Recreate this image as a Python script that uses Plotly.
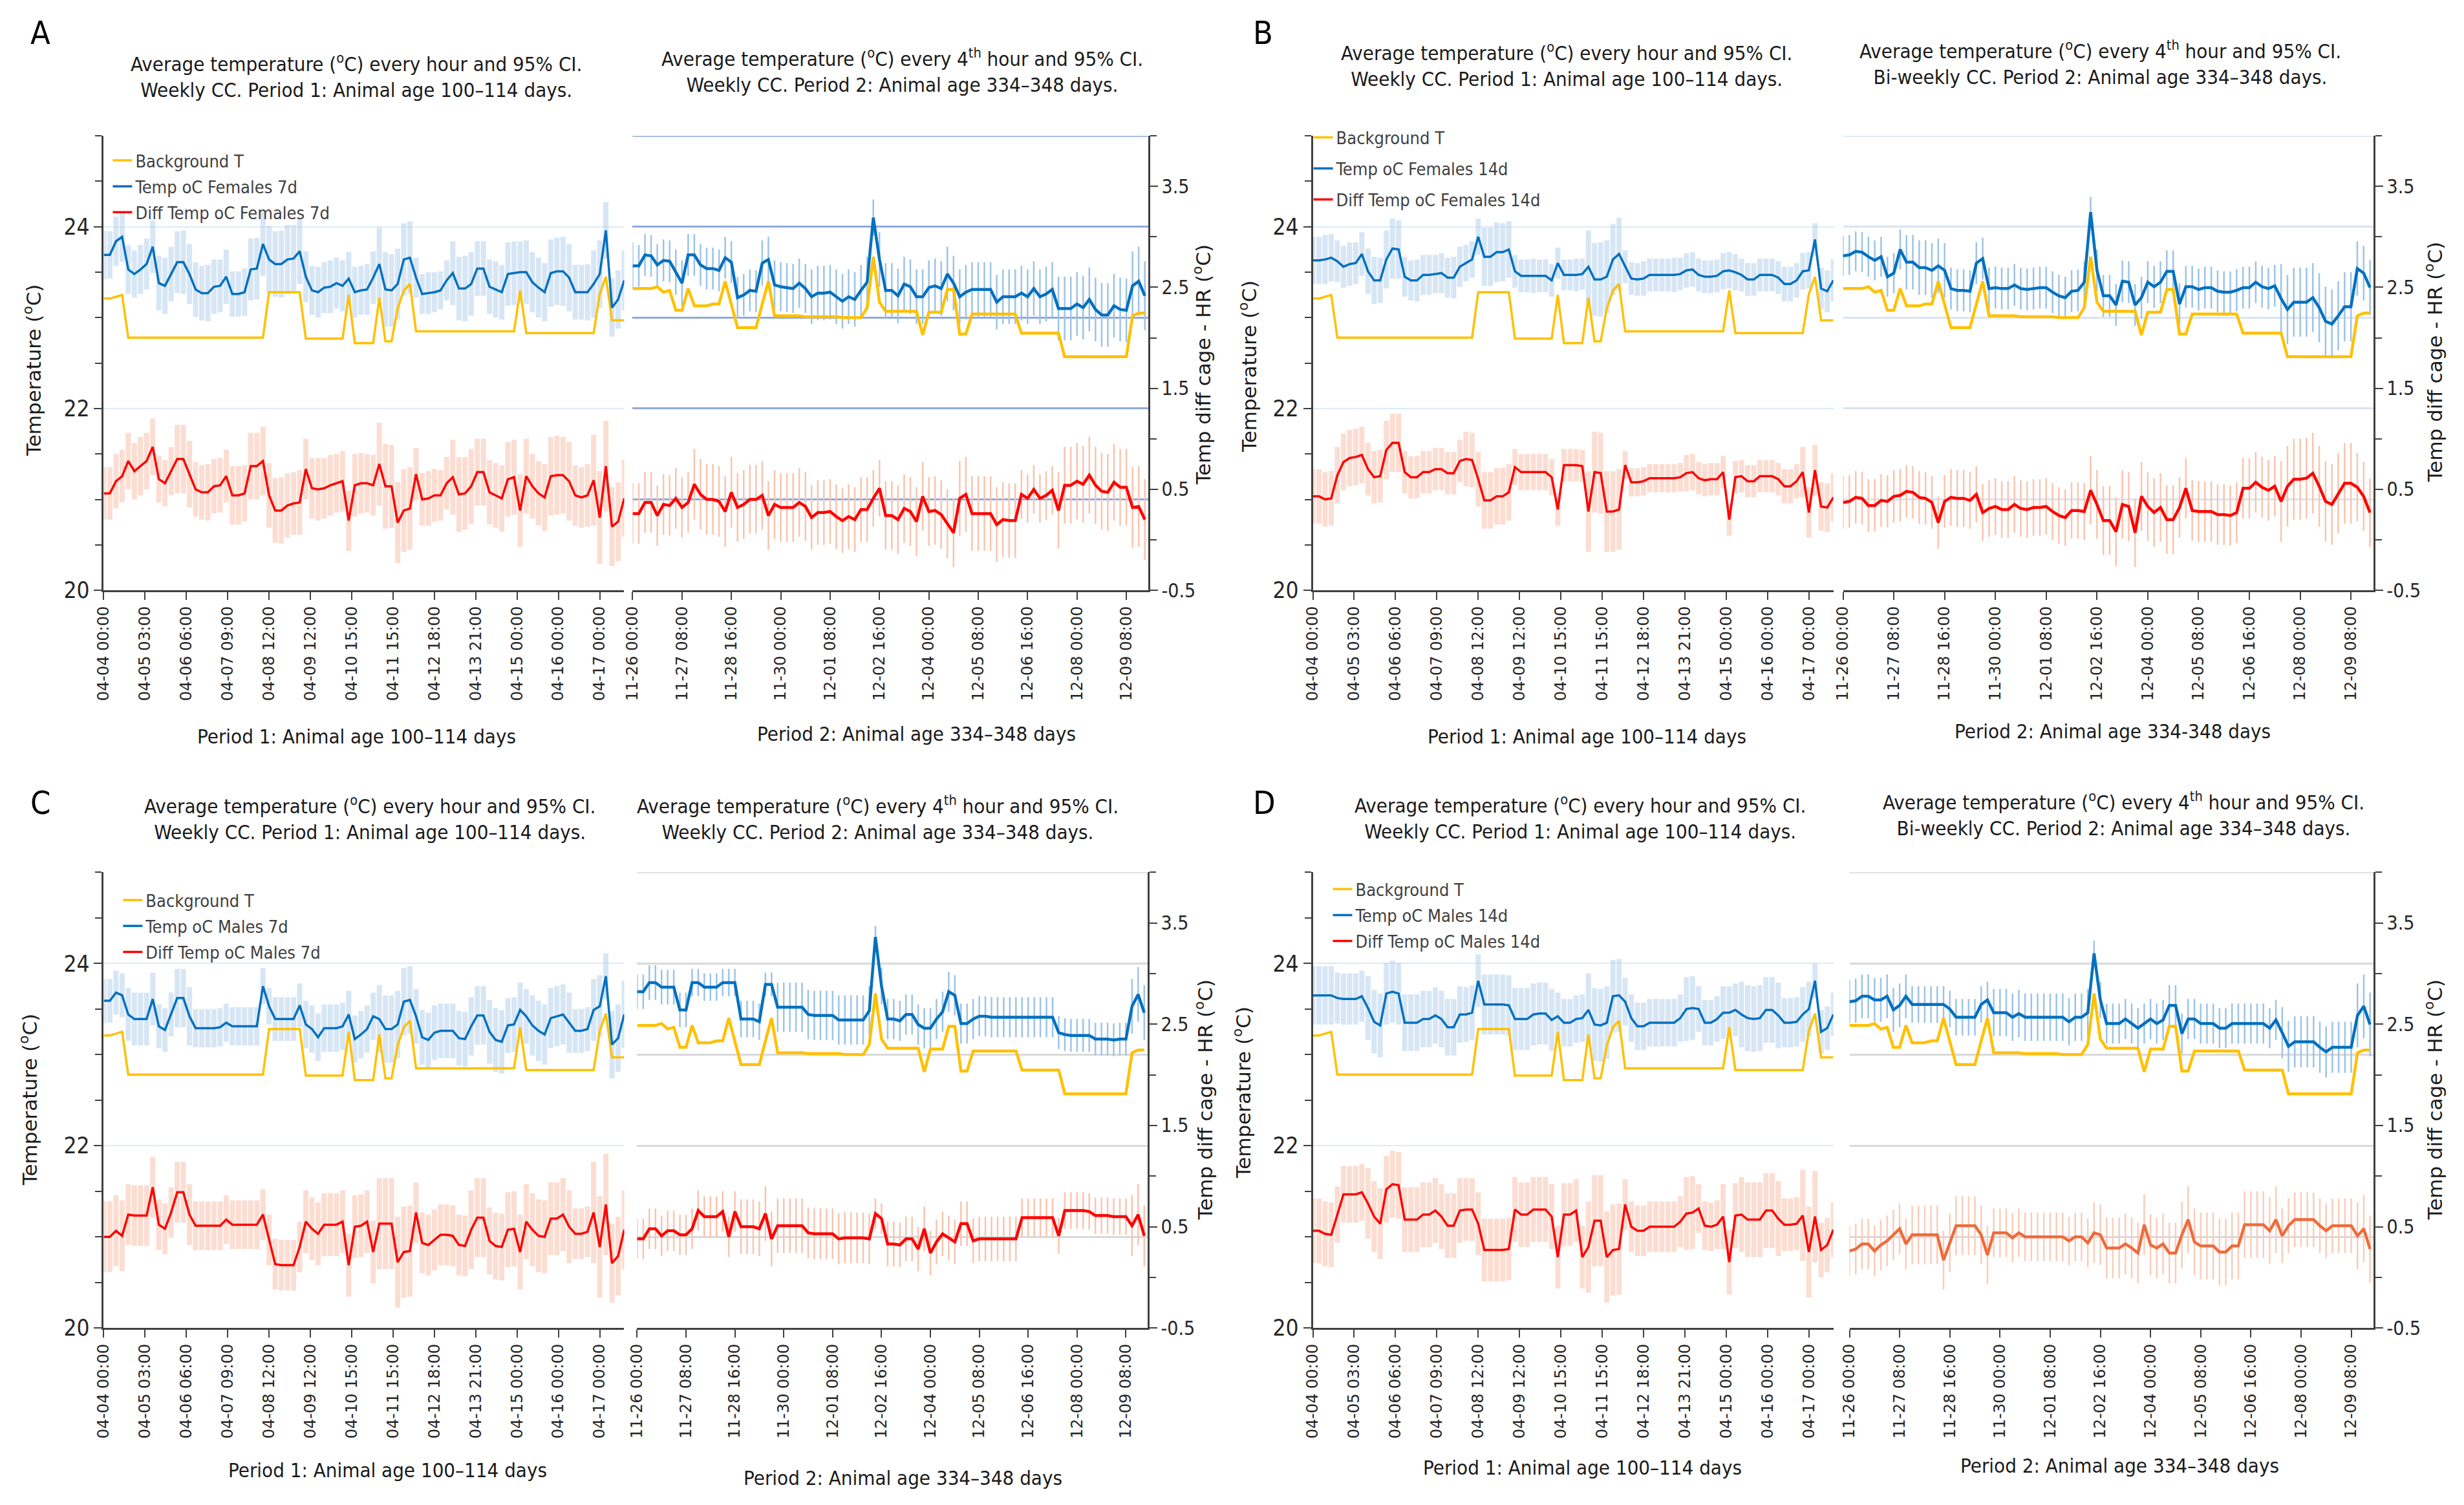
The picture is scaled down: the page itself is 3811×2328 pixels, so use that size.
import plotly.graph_objects as go

W, H = 3811, 2328

# ------------------------------------------------------------------ data
P1_TICK_POS = [0, 27, 54, 81, 108, 135, 162, 189, 216, 243, 270, 297, 324]
P1_TICK_TEXT = ["04-04 00:00", "04-05 03:00", "04-06 06:00", "04-07 09:00", "04-08 12:00",
                "04-09 12:00", "04-10 15:00", "04-11 15:00", "04-12 18:00", "04-13 21:00",
                "04-15 00:00", "04-16 00:00", "04-17 00:00"]
P2_TICK_POS = [0, 8, 16, 24, 32, 40, 48, 56, 64, 72, 80]
P2_TICK_TEXT = ["11-26 00:00", "11-27 08:00", "11-28 16:00", "11-30 00:00", "12-01 08:00",
                "12-02 16:00", "12-04 00:00", "12-05 08:00", "12-06 16:00", "12-08 00:00",
                "12-09 08:00"]
P1_X = list(range(0, 341, 4))   # hourly category index, every 4th hour read
P2_X = list(range(0, 84))       # every 4th hour category index

BG_P1 = [23.21, 23.21, 23.23, 23.25, 22.78, 22.78, 22.78, 22.78, 22.78, 22.78,
         22.78, 22.78, 22.78, 22.78, 22.78, 22.78, 22.78, 22.78, 22.78, 22.78,
         22.78, 22.78, 22.78, 22.78, 22.78, 22.78, 22.78, 23.28, 23.28, 23.28,
         23.28, 23.28, 23.28, 22.77, 22.77, 22.77, 22.77, 22.77, 22.77, 22.77,
         23.25, 22.72, 22.72, 22.72, 22.72, 23.22, 22.74, 22.74, 23.10, 23.30,
         23.37, 22.85, 22.85, 22.85, 22.85, 22.85, 22.85, 22.85, 22.85, 22.85,
         22.85, 22.85, 22.85, 22.85, 22.85, 22.85, 22.85, 22.85, 23.30, 22.83,
         22.83, 22.83, 22.83, 22.83, 22.83, 22.83, 22.83, 22.83, 22.83, 22.83,
         22.83, 23.26, 23.45, 22.97, 22.97, 22.97]
BG_P2 = [23.32, 23.32, 23.32, 23.32, 23.34, 23.28, 23.30, 23.08, 23.08, 23.32,
         23.13, 23.13, 23.13, 23.15, 23.15, 23.40, 23.15, 22.89, 22.89, 22.89,
         22.89, 23.15, 23.40, 23.02, 23.02, 23.02, 23.02, 23.02, 23.01, 23.01,
         23.01, 23.01, 23.01, 23.01, 23.00, 23.00, 23.00, 23.00, 23.11, 23.67,
         23.17, 23.07, 23.07, 23.07, 23.07, 23.07, 23.07, 22.81, 23.06, 23.06,
         23.06, 23.31, 23.31, 22.82, 22.82, 23.04, 23.04, 23.04, 23.04, 23.04,
         23.04, 23.04, 23.04, 22.83, 22.83, 22.83, 22.83, 22.83, 22.83, 22.83,
         22.57, 22.57, 22.57, 22.57, 22.57, 22.57, 22.57, 22.57, 22.57, 22.57,
         22.57, 23.02, 23.05, 23.05]

# ---- Panel A (Females 7d)
A_P1_TEMP = [23.69, 23.69, 23.84, 23.89, 23.53, 23.48, 23.53, 23.59, 23.78, 23.38,
             23.35, 23.48, 23.61, 23.61, 23.48, 23.31, 23.27, 23.27, 23.34, 23.35,
             23.45, 23.26, 23.26, 23.28, 23.53, 23.54, 23.81, 23.64, 23.59, 23.59,
             23.64, 23.65, 23.73, 23.45, 23.30, 23.28, 23.33, 23.34, 23.38, 23.35,
             23.43, 23.28, 23.30, 23.31, 23.44, 23.59, 23.31, 23.30, 23.37, 23.64,
             23.66, 23.44, 23.26, 23.27, 23.28, 23.30, 23.41, 23.49, 23.32, 23.32,
             23.37, 23.54, 23.54, 23.34, 23.31, 23.28, 23.48, 23.49, 23.50, 23.50,
             23.39, 23.33, 23.28, 23.49, 23.51, 23.51, 23.44, 23.28, 23.28, 23.28,
             23.37, 23.48, 23.96, 23.11, 23.20, 23.41]
A_P1_TEMP_CI = [0.27, 0.26, 0.27, 0.28, 0.27, 0.26, 0.27, 0.28, 0.29, 0.30,
                0.31, 0.30, 0.34, 0.35, 0.33, 0.30, 0.30, 0.31, 0.30, 0.29,
                0.30, 0.25, 0.25, 0.26, 0.34, 0.34, 0.35, 0.37, 0.36, 0.37,
                0.38, 0.37, 0.36, 0.28, 0.27, 0.28, 0.28, 0.29, 0.28, 0.28,
                0.29, 0.28, 0.27, 0.28, 0.29, 0.40, 0.41, 0.40, 0.39, 0.40,
                0.40, 0.22, 0.22, 0.23, 0.22, 0.21, 0.22, 0.35, 0.35, 0.36,
                0.35, 0.30, 0.30, 0.30, 0.31, 0.30, 0.35, 0.35, 0.34, 0.35,
                0.33, 0.33, 0.32, 0.37, 0.37, 0.38, 0.37, 0.30, 0.30, 0.31,
                0.37, 0.37, 0.31, 0.32, 0.32, 0.33]
A_P1_DIFF = [0.46, 0.46, 0.58, 0.63, 0.78, 0.68, 0.73, 0.78, 0.92, 0.60,
             0.56, 0.68, 0.80, 0.80, 0.65, 0.50, 0.47, 0.47, 0.53, 0.54,
             0.63, 0.44, 0.44, 0.46, 0.73, 0.73, 0.78, 0.44, 0.29, 0.29,
             0.34, 0.36, 0.37, 0.70, 0.51, 0.50, 0.51, 0.54, 0.56, 0.58,
             0.19, 0.54, 0.56, 0.56, 0.54, 0.75, 0.53, 0.53, 0.17, 0.29,
             0.31, 0.65, 0.40, 0.41, 0.44, 0.44, 0.56, 0.62, 0.45, 0.46,
             0.53, 0.67, 0.67, 0.47, 0.44, 0.41, 0.60, 0.62, 0.29, 0.63,
             0.53, 0.46, 0.42, 0.63, 0.64, 0.64, 0.58, 0.44, 0.42, 0.44,
             0.59, 0.22, 0.73, 0.13, 0.18, 0.41]
A_P1_DIFF_CI = [0.26, 0.26, 0.27, 0.26, 0.28, 0.28, 0.29, 0.28, 0.28, 0.23,
                0.23, 0.24, 0.34, 0.34, 0.33, 0.27, 0.27, 0.28, 0.27, 0.27,
                0.26, 0.29, 0.29, 0.28, 0.33, 0.33, 0.34, 0.32, 0.32, 0.33,
                0.32, 0.31, 0.32, 0.30, 0.30, 0.31, 0.30, 0.30, 0.29, 0.30,
                0.30, 0.31, 0.30, 0.29, 0.30, 0.41, 0.42, 0.41, 0.40, 0.41,
                0.41, 0.26, 0.26, 0.27, 0.26, 0.25, 0.26, 0.37, 0.37, 0.36,
                0.37, 0.33, 0.33, 0.32, 0.32, 0.33, 0.37, 0.37, 0.36, 0.37,
                0.32, 0.32, 0.33, 0.39, 0.39, 0.38, 0.39, 0.30, 0.30, 0.31,
                0.45, 0.46, 0.45, 0.39, 0.39, 0.38]
A_P2_TEMP = [23.57, 23.57, 23.69, 23.68, 23.58, 23.63, 23.62, 23.50, 23.38, 23.69,
             23.69, 23.58, 23.54, 23.54, 23.52, 23.66, 23.61, 23.22, 23.25, 23.30,
             23.29, 23.60, 23.64, 23.36, 23.34, 23.33, 23.32, 23.38, 23.32, 23.23,
             23.27, 23.27, 23.28, 23.23, 23.18, 23.23, 23.20, 23.30, 23.39, 24.10,
             23.64, 23.30, 23.30, 23.24, 23.37, 23.34, 23.23, 23.23, 23.33, 23.35,
             23.32, 23.48, 23.38, 23.23, 23.28, 23.31, 23.31, 23.31, 23.31, 23.17,
             23.23, 23.23, 23.23, 23.27, 23.23, 23.32, 23.23, 23.26, 23.31, 23.10,
             23.10, 23.10, 23.15, 23.11, 23.20, 23.09, 23.03, 23.03, 23.13, 23.09,
             23.08, 23.35, 23.40, 23.24]
A_P2_TEMP_CI = [0.26, 0.23, 0.23, 0.23, 0.23, 0.23, 0.23, 0.25, 0.25, 0.23,
                0.23, 0.23, 0.23, 0.23, 0.23, 0.23, 0.23, 0.23, 0.23, 0.23,
                0.23, 0.25, 0.25, 0.27, 0.27, 0.27, 0.27, 0.27, 0.27, 0.30,
                0.30, 0.30, 0.30, 0.30, 0.30, 0.30, 0.30, 0.28, 0.28, 0.20,
                0.30, 0.30, 0.30, 0.30, 0.30, 0.30, 0.30, 0.30, 0.30, 0.30,
                0.30, 0.30, 0.30, 0.30, 0.30, 0.30, 0.30, 0.30, 0.30, 0.30,
                0.30, 0.30, 0.30, 0.30, 0.30, 0.30, 0.30, 0.30, 0.30, 0.35,
                0.35, 0.35, 0.35, 0.35, 0.35, 0.35, 0.35, 0.35, 0.35, 0.35,
                0.35, 0.38, 0.38, 0.38]
A_P2_DIFF = [0.26, 0.26, 0.37, 0.37, 0.24, 0.35, 0.34, 0.41, 0.32, 0.37,
             0.55, 0.45, 0.40, 0.40, 0.38, 0.28, 0.47, 0.32, 0.35, 0.40,
             0.40, 0.44, 0.24, 0.35, 0.32, 0.32, 0.32, 0.37, 0.33, 0.22,
             0.27, 0.27, 0.28, 0.23, 0.19, 0.23, 0.20, 0.30, 0.30, 0.41,
             0.51, 0.24, 0.24, 0.20, 0.31, 0.28, 0.18, 0.43, 0.28, 0.29,
             0.25, 0.16, 0.07, 0.41, 0.45, 0.26, 0.26, 0.26, 0.26, 0.15,
             0.20, 0.19, 0.19, 0.45, 0.41, 0.50, 0.41, 0.44, 0.49, 0.29,
             0.54, 0.54, 0.58, 0.55, 0.64, 0.54, 0.48, 0.47, 0.57, 0.52,
             0.52, 0.32, 0.33, 0.20]
A_P2_DIFF_CI = [0.30, 0.30, 0.30, 0.30, 0.30, 0.30, 0.30, 0.30, 0.30, 0.30,
                0.35, 0.35, 0.35, 0.35, 0.35, 0.35, 0.35, 0.34, 0.34, 0.34,
                0.34, 0.34, 0.34, 0.34, 0.34, 0.34, 0.34, 0.34, 0.34, 0.32,
                0.32, 0.32, 0.32, 0.32, 0.32, 0.32, 0.32, 0.32, 0.32, 0.28,
                0.28, 0.34, 0.34, 0.34, 0.34, 0.34, 0.34, 0.34, 0.34, 0.34,
                0.34, 0.34, 0.34, 0.37, 0.37, 0.37, 0.37, 0.37, 0.37, 0.37,
                0.37, 0.37, 0.37, 0.24, 0.24, 0.24, 0.24, 0.24, 0.24, 0.38,
                0.38, 0.38, 0.38, 0.38, 0.38, 0.38, 0.38, 0.38, 0.38, 0.38,
                0.38, 0.40, 0.40, 0.40]

# ---- Panel B (Females 14d)
B_P1_TEMP = [23.63, 23.63, 23.64, 23.66, 23.62, 23.56, 23.59, 23.60, 23.70, 23.51,
             23.41, 23.41, 23.64, 23.76, 23.75, 23.45, 23.41, 23.41, 23.47, 23.47,
             23.48, 23.49, 23.44, 23.44, 23.56, 23.60, 23.64, 23.89, 23.67, 23.67,
             23.72, 23.72, 23.75, 23.51, 23.46, 23.46, 23.46, 23.46, 23.46, 23.41,
             23.60, 23.47, 23.47, 23.47, 23.48, 23.56, 23.42, 23.42, 23.45, 23.64,
             23.70, 23.56, 23.43, 23.42, 23.43, 23.47, 23.47, 23.47, 23.47, 23.47,
             23.48, 23.52, 23.53, 23.47, 23.45, 23.45, 23.46, 23.51, 23.52, 23.50,
             23.47, 23.42, 23.42, 23.47, 23.47, 23.47, 23.44, 23.37, 23.37, 23.41,
             23.51, 23.52, 23.86, 23.32, 23.29, 23.41]
B_P1_TEMP_CI = [0.26, 0.26, 0.27, 0.26, 0.23, 0.23, 0.24, 0.23, 0.24, 0.25,
                0.26, 0.25, 0.32, 0.33, 0.32, 0.22, 0.22, 0.23, 0.22, 0.22,
                0.21, 0.22, 0.22, 0.23, 0.22, 0.20, 0.20, 0.20, 0.32, 0.32,
                0.33, 0.32, 0.31, 0.18, 0.18, 0.18, 0.19, 0.18, 0.18, 0.18,
                0.17, 0.17, 0.17, 0.18, 0.17, 0.40, 0.40, 0.41, 0.40, 0.39,
                0.40, 0.18, 0.18, 0.18, 0.19, 0.18, 0.18, 0.18, 0.18, 0.19,
                0.18, 0.19, 0.19, 0.18, 0.18, 0.18, 0.18, 0.20, 0.20, 0.20,
                0.18, 0.18, 0.18, 0.18, 0.18, 0.18, 0.18, 0.19, 0.19, 0.19,
                0.20, 0.20, 0.18, 0.23, 0.23, 0.23]
B_P1_DIFF = [0.43, 0.43, 0.40, 0.41, 0.64, 0.77, 0.81, 0.82, 0.84, 0.70,
             0.62, 0.63, 0.89, 0.96, 0.96, 0.67, 0.62, 0.62, 0.67, 0.67,
             0.70, 0.70, 0.66, 0.66, 0.78, 0.80, 0.79, 0.60, 0.39, 0.39,
             0.43, 0.43, 0.47, 0.72, 0.67, 0.67, 0.67, 0.67, 0.67, 0.62,
             0.30, 0.74, 0.74, 0.74, 0.73, 0.28, 0.67, 0.66, 0.28, 0.28,
             0.30, 0.74, 0.57, 0.57, 0.58, 0.61, 0.61, 0.61, 0.61, 0.61,
             0.62, 0.66, 0.67, 0.61, 0.59, 0.60, 0.60, 0.67, 0.20, 0.62,
             0.63, 0.58, 0.58, 0.63, 0.63, 0.63, 0.60, 0.53, 0.53, 0.58,
             0.67, 0.27, 0.69, 0.33, 0.32, 0.42]
B_P1_DIFF_CI = [0.27, 0.27, 0.27, 0.27, 0.28, 0.28, 0.28, 0.28, 0.28, 0.26,
                0.26, 0.26, 0.29, 0.29, 0.29, 0.21, 0.21, 0.21, 0.21, 0.21,
                0.21, 0.21, 0.21, 0.21, 0.21, 0.27, 0.27, 0.27, 0.28, 0.28,
                0.28, 0.28, 0.28, 0.18, 0.18, 0.18, 0.18, 0.18, 0.18, 0.18,
                0.16, 0.16, 0.16, 0.16, 0.16, 0.40, 0.40, 0.40, 0.40, 0.40,
                0.40, 0.14, 0.14, 0.14, 0.14, 0.14, 0.14, 0.14, 0.14, 0.14,
                0.14, 0.18, 0.18, 0.16, 0.16, 0.16, 0.16, 0.16, 0.16, 0.16,
                0.16, 0.16, 0.16, 0.16, 0.16, 0.16, 0.16, 0.17, 0.17, 0.17,
                0.25, 0.25, 0.25, 0.24, 0.24, 0.24]
B_P2_TEMP = [23.68, 23.69, 23.73, 23.72, 23.67, 23.63, 23.67, 23.45, 23.49, 23.75,
             23.61, 23.61, 23.55, 23.55, 23.52, 23.57, 23.52, 23.32, 23.30, 23.30,
             23.29, 23.60, 23.65, 23.32, 23.33, 23.32, 23.32, 23.36, 23.32, 23.31,
             23.32, 23.33, 23.33, 23.28, 23.24, 23.22, 23.29, 23.30, 23.39, 24.16,
             23.52, 23.24, 23.24, 23.14, 23.40, 23.39, 23.14, 23.22, 23.39, 23.34,
             23.39, 23.51, 23.51, 23.15, 23.34, 23.34, 23.31, 23.33, 23.33, 23.29,
             23.28, 23.28, 23.30, 23.33, 23.33, 23.39, 23.34, 23.32, 23.35, 23.21,
             23.09, 23.17, 23.17, 23.17, 23.22, 23.11, 22.96, 22.93, 23.02, 23.12,
             23.12, 23.54, 23.49, 23.33]
B_P2_TEMP_CI = [0.22, 0.22, 0.22, 0.22, 0.22, 0.22, 0.22, 0.22, 0.22, 0.22,
                0.30, 0.30, 0.30, 0.30, 0.30, 0.30, 0.30, 0.23, 0.23, 0.23,
                0.23, 0.23, 0.23, 0.23, 0.23, 0.23, 0.23, 0.23, 0.23, 0.23,
                0.23, 0.23, 0.23, 0.23, 0.23, 0.23, 0.23, 0.23, 0.23, 0.17,
                0.23, 0.23, 0.23, 0.23, 0.23, 0.23, 0.23, 0.23, 0.23, 0.23,
                0.23, 0.23, 0.23, 0.23, 0.23, 0.23, 0.23, 0.23, 0.23, 0.23,
                0.23, 0.23, 0.23, 0.23, 0.23, 0.23, 0.23, 0.23, 0.23, 0.38,
                0.38, 0.38, 0.38, 0.38, 0.38, 0.38, 0.38, 0.38, 0.38, 0.38,
                0.38, 0.30, 0.30, 0.30]
B_P2_DIFF = [0.37, 0.38, 0.42, 0.41, 0.34, 0.34, 0.39, 0.38, 0.43, 0.44,
             0.48, 0.47, 0.42, 0.41, 0.37, 0.17, 0.38, 0.42, 0.41, 0.41,
             0.39, 0.45, 0.27, 0.31, 0.33, 0.30, 0.30, 0.35, 0.31, 0.30,
             0.32, 0.32, 0.33, 0.28, 0.24, 0.22, 0.29, 0.29, 0.28, 0.49,
             0.35, 0.19, 0.19, 0.08, 0.35, 0.33, 0.07, 0.43, 0.33, 0.27,
             0.32, 0.20, 0.20, 0.32, 0.51, 0.29, 0.28, 0.28, 0.28, 0.25,
             0.25, 0.24, 0.27, 0.51, 0.51, 0.57, 0.52, 0.49, 0.53, 0.38,
             0.53, 0.60, 0.60, 0.61, 0.66, 0.53, 0.38, 0.35, 0.46, 0.56,
             0.56, 0.52, 0.43, 0.27]
B_P2_DIFF_CI = [0.26, 0.26, 0.26, 0.26, 0.26, 0.26, 0.26, 0.26, 0.26, 0.26,
                0.26, 0.26, 0.26, 0.26, 0.26, 0.26, 0.26, 0.28, 0.28, 0.28,
                0.28, 0.28, 0.28, 0.28, 0.28, 0.28, 0.28, 0.28, 0.28, 0.28,
                0.28, 0.28, 0.28, 0.28, 0.28, 0.28, 0.28, 0.28, 0.28, 0.34,
                0.34, 0.34, 0.34, 0.34, 0.34, 0.34, 0.34, 0.34, 0.34, 0.34,
                0.34, 0.34, 0.34, 0.30, 0.30, 0.30, 0.30, 0.30, 0.30, 0.30,
                0.30, 0.30, 0.30, 0.30, 0.30, 0.30, 0.30, 0.30, 0.30, 0.40,
                0.40, 0.40, 0.40, 0.40, 0.40, 0.40, 0.40, 0.40, 0.40, 0.40,
                0.40, 0.34, 0.34, 0.34]

# ---- Panel C (Males 7d)
C_P1_TEMP = [23.59, 23.59, 23.68, 23.65, 23.44, 23.39, 23.39, 23.39, 23.61, 23.31,
             23.27, 23.44, 23.62, 23.62, 23.42, 23.29, 23.29, 23.29, 23.29, 23.30,
             23.35, 23.31, 23.31, 23.31, 23.31, 23.31, 23.75, 23.53, 23.39, 23.39,
             23.39, 23.39, 23.54, 23.33, 23.28, 23.19, 23.29, 23.29, 23.29, 23.31,
             23.44, 23.17, 23.22, 23.28, 23.42, 23.39, 23.28, 23.28, 23.33, 23.58,
             23.60, 23.42, 23.19, 23.16, 23.24, 23.26, 23.26, 23.26, 23.18, 23.17,
             23.31, 23.43, 23.43, 23.25, 23.16, 23.14, 23.32, 23.33, 23.49, 23.42,
             23.32, 23.26, 23.22, 23.40, 23.42, 23.44, 23.35, 23.26, 23.26, 23.28,
             23.49, 23.53, 23.86, 23.11, 23.18, 23.44]
C_P1_TEMP_CI = [0.24, 0.24, 0.24, 0.24, 0.29, 0.29, 0.29, 0.29, 0.29, 0.24,
                0.24, 0.24, 0.32, 0.32, 0.32, 0.21, 0.21, 0.21, 0.21, 0.21,
                0.21, 0.21, 0.21, 0.21, 0.21, 0.21, 0.20, 0.20, 0.24, 0.24,
                0.24, 0.24, 0.24, 0.26, 0.26, 0.26, 0.26, 0.26, 0.26, 0.26,
                0.26, 0.26, 0.26, 0.26, 0.26, 0.37, 0.37, 0.37, 0.37, 0.37,
                0.37, 0.30, 0.30, 0.30, 0.30, 0.30, 0.30, 0.30, 0.30, 0.30,
                0.32, 0.32, 0.32, 0.35, 0.35, 0.35, 0.30, 0.30, 0.30, 0.30,
                0.33, 0.33, 0.33, 0.33, 0.33, 0.33, 0.33, 0.24, 0.24, 0.24,
                0.34, 0.34, 0.25, 0.37, 0.37, 0.37]
C_P1_DIFF = [0.40, 0.40, 0.46, 0.41, 0.62, 0.61, 0.61, 0.61, 0.89, 0.52,
             0.48, 0.64, 0.84, 0.84, 0.62, 0.51, 0.51, 0.51, 0.51, 0.51,
             0.57, 0.52, 0.52, 0.52, 0.52, 0.52, 0.62, 0.37, 0.13, 0.12,
             0.12, 0.12, 0.30, 0.55, 0.48, 0.43, 0.52, 0.52, 0.52, 0.55,
             0.12, 0.50, 0.51, 0.55, 0.25, 0.53, 0.53, 0.53, 0.15, 0.25,
             0.26, 0.64, 0.34, 0.32, 0.37, 0.42, 0.42, 0.41, 0.32, 0.31,
             0.47, 0.59, 0.59, 0.36, 0.31, 0.30, 0.47, 0.48, 0.25, 0.55,
             0.47, 0.41, 0.40, 0.58, 0.58, 0.62, 0.50, 0.43, 0.43, 0.45,
             0.64, 0.30, 0.72, 0.14, 0.21, 0.47]
C_P1_DIFF_CI = [0.35, 0.35, 0.35, 0.35, 0.30, 0.30, 0.30, 0.30, 0.30, 0.25,
                0.25, 0.25, 0.30, 0.30, 0.30, 0.24, 0.24, 0.24, 0.24, 0.24,
                0.24, 0.24, 0.24, 0.24, 0.24, 0.24, 0.25, 0.25, 0.25, 0.25,
                0.25, 0.25, 0.25, 0.31, 0.31, 0.31, 0.31, 0.31, 0.31, 0.31,
                0.31, 0.31, 0.31, 0.31, 0.31, 0.45, 0.45, 0.45, 0.45, 0.45,
                0.45, 0.30, 0.30, 0.30, 0.30, 0.30, 0.30, 0.30, 0.30, 0.30,
                0.39, 0.39, 0.39, 0.33, 0.33, 0.33, 0.37, 0.37, 0.37, 0.37,
                0.36, 0.36, 0.36, 0.36, 0.36, 0.36, 0.36, 0.25, 0.25, 0.25,
                0.50, 0.50, 0.50, 0.39, 0.39, 0.39]
C_P2_TEMP = [23.69, 23.69, 23.79, 23.79, 23.74, 23.74, 23.74, 23.49, 23.49, 23.79,
             23.79, 23.74, 23.74, 23.74, 23.79, 23.79, 23.79, 23.39, 23.39, 23.39,
             23.36, 23.77, 23.77, 23.52, 23.52, 23.52, 23.52, 23.52, 23.44, 23.43,
             23.43, 23.43, 23.43, 23.38, 23.38, 23.38, 23.38, 23.38, 23.48, 24.29,
             23.75, 23.39, 23.39, 23.37, 23.44, 23.44, 23.33, 23.29, 23.29, 23.39,
             23.47, 23.69, 23.65, 23.34, 23.34, 23.39, 23.42, 23.42, 23.41, 23.41,
             23.41, 23.41, 23.41, 23.41, 23.41, 23.41, 23.41, 23.41, 23.41, 23.24,
             23.22, 23.21, 23.21, 23.21, 23.21, 23.17, 23.17, 23.17, 23.16, 23.17,
             23.17, 23.53, 23.66, 23.46]
C_P2_TEMP_CI = [0.19, 0.19, 0.19, 0.19, 0.19, 0.19, 0.19, 0.19, 0.19, 0.15,
                0.15, 0.15, 0.15, 0.15, 0.15, 0.15, 0.15, 0.20, 0.20, 0.20,
                0.20, 0.13, 0.13, 0.27, 0.27, 0.27, 0.27, 0.27, 0.27, 0.27,
                0.27, 0.27, 0.27, 0.27, 0.27, 0.27, 0.27, 0.27, 0.27, 0.12,
                0.20, 0.22, 0.22, 0.22, 0.22, 0.22, 0.22, 0.22, 0.22, 0.22,
                0.22, 0.22, 0.22, 0.22, 0.22, 0.22, 0.22, 0.22, 0.22, 0.22,
                0.22, 0.22, 0.22, 0.22, 0.22, 0.22, 0.22, 0.22, 0.22, 0.18,
                0.18, 0.18, 0.18, 0.18, 0.18, 0.18, 0.18, 0.18, 0.18, 0.18,
                0.18, 0.30, 0.30, 0.30]
C_P2_DIFF = [0.38, 0.38, 0.48, 0.48, 0.41, 0.46, 0.46, 0.42, 0.42, 0.48,
             0.66, 0.60, 0.60, 0.60, 0.65, 0.40, 0.65, 0.50, 0.50, 0.50,
             0.48, 0.63, 0.38, 0.51, 0.51, 0.51, 0.51, 0.51, 0.44, 0.43,
             0.43, 0.43, 0.43, 0.38, 0.39, 0.39, 0.39, 0.39, 0.38, 0.63,
             0.58, 0.33, 0.33, 0.32, 0.38, 0.38, 0.28, 0.48, 0.24, 0.35,
             0.43, 0.39, 0.35, 0.53, 0.53, 0.36, 0.38, 0.38, 0.38, 0.38,
             0.38, 0.38, 0.38, 0.59, 0.59, 0.59, 0.59, 0.59, 0.59, 0.41,
             0.66, 0.66, 0.66, 0.66, 0.65, 0.61, 0.61, 0.61, 0.60, 0.60,
             0.60, 0.51, 0.62, 0.41]
C_P2_DIFF_CI = [0.20, 0.20, 0.20, 0.20, 0.20, 0.20, 0.20, 0.20, 0.20, 0.20,
                0.20, 0.20, 0.20, 0.20, 0.20, 0.20, 0.20, 0.27, 0.27, 0.27,
                0.27, 0.27, 0.27, 0.27, 0.27, 0.27, 0.27, 0.27, 0.25, 0.25,
                0.25, 0.25, 0.25, 0.25, 0.25, 0.25, 0.25, 0.25, 0.25, 0.15,
                0.15, 0.22, 0.22, 0.22, 0.22, 0.22, 0.22, 0.22, 0.22, 0.22,
                0.22, 0.22, 0.22, 0.22, 0.22, 0.22, 0.22, 0.22, 0.22, 0.22,
                0.22, 0.22, 0.22, 0.19, 0.19, 0.19, 0.19, 0.19, 0.19, 0.18,
                0.18, 0.18, 0.18, 0.18, 0.18, 0.18, 0.18, 0.18, 0.18, 0.18,
                0.18, 0.30, 0.30, 0.30]

# ---- Panel D (Males 14d)
D_P1_TEMP = [23.65, 23.65, 23.65, 23.65, 23.62, 23.61, 23.61, 23.61, 23.64, 23.51,
             23.36, 23.32, 23.67, 23.69, 23.67, 23.35, 23.35, 23.35, 23.39, 23.39,
             23.43, 23.39, 23.30, 23.30, 23.44, 23.44, 23.46, 23.81, 23.55, 23.55,
             23.55, 23.55, 23.54, 23.39, 23.39, 23.39, 23.44, 23.45, 23.45, 23.38,
             23.42, 23.35, 23.35, 23.39, 23.40, 23.49, 23.33, 23.32, 23.35, 23.64,
             23.65, 23.58, 23.40, 23.31, 23.31, 23.35, 23.35, 23.35, 23.35, 23.35,
             23.40, 23.50, 23.51, 23.50, 23.35, 23.35, 23.39, 23.46, 23.46, 23.49,
             23.44, 23.40, 23.39, 23.40, 23.49, 23.49, 23.43, 23.35, 23.35, 23.36,
             23.44, 23.50, 23.81, 23.25, 23.29, 23.44]
D_P1_TEMP_CI = [0.32, 0.32, 0.32, 0.32, 0.28, 0.28, 0.28, 0.28, 0.28, 0.35,
                0.35, 0.35, 0.34, 0.34, 0.34, 0.31, 0.31, 0.31, 0.31, 0.31,
                0.31, 0.31, 0.31, 0.31, 0.31, 0.30, 0.30, 0.29, 0.33, 0.33,
                0.33, 0.33, 0.33, 0.34, 0.34, 0.34, 0.34, 0.34, 0.34, 0.34,
                0.26, 0.26, 0.26, 0.26, 0.26, 0.40, 0.40, 0.40, 0.40, 0.40,
                0.40, 0.26, 0.26, 0.26, 0.26, 0.26, 0.26, 0.26, 0.26, 0.26,
                0.26, 0.35, 0.35, 0.25, 0.25, 0.25, 0.25, 0.29, 0.29, 0.29,
                0.36, 0.36, 0.36, 0.36, 0.36, 0.36, 0.36, 0.27, 0.27, 0.27,
                0.30, 0.30, 0.19, 0.24, 0.24, 0.24]
D_P1_DIFF = [0.46, 0.46, 0.43, 0.42, 0.62, 0.82, 0.82, 0.82, 0.84, 0.73,
             0.60, 0.53, 0.87, 0.92, 0.91, 0.57, 0.57, 0.57, 0.62, 0.62,
             0.66, 0.60, 0.51, 0.51, 0.66, 0.67, 0.67, 0.53, 0.27, 0.27,
             0.27, 0.27, 0.28, 0.67, 0.62, 0.62, 0.67, 0.67, 0.67, 0.60,
             0.20, 0.62, 0.62, 0.66, 0.20, 0.30, 0.56, 0.56, 0.20, 0.27,
             0.28, 0.72, 0.50, 0.46, 0.46, 0.50, 0.50, 0.50, 0.50, 0.50,
             0.55, 0.63, 0.64, 0.68, 0.51, 0.50, 0.52, 0.60, 0.15, 0.61,
             0.62, 0.57, 0.57, 0.57, 0.66, 0.66, 0.58, 0.52, 0.52, 0.53,
             0.61, 0.25, 0.60, 0.27, 0.32, 0.47]
D_P1_DIFF_CI = [0.32, 0.32, 0.32, 0.32, 0.28, 0.28, 0.28, 0.28, 0.28, 0.35,
                0.35, 0.35, 0.33, 0.33, 0.33, 0.32, 0.32, 0.32, 0.32, 0.32,
                0.32, 0.32, 0.32, 0.32, 0.32, 0.31, 0.31, 0.31, 0.31, 0.31,
                0.31, 0.31, 0.31, 0.32, 0.32, 0.32, 0.32, 0.32, 0.32, 0.32,
                0.31, 0.31, 0.31, 0.31, 0.31, 0.45, 0.45, 0.45, 0.45, 0.45,
                0.45, 0.25, 0.25, 0.25, 0.25, 0.25, 0.25, 0.25, 0.25, 0.25,
                0.25, 0.36, 0.36, 0.24, 0.24, 0.24, 0.24, 0.32, 0.32, 0.32,
                0.37, 0.37, 0.37, 0.37, 0.37, 0.37, 0.37, 0.26, 0.26, 0.26,
                0.45, 0.45, 0.45, 0.27, 0.27, 0.27]
D_P2_TEMP = [23.58, 23.59, 23.64, 23.64, 23.60, 23.60, 23.64, 23.49, 23.54, 23.64,
             23.55, 23.55, 23.55, 23.55, 23.55, 23.55, 23.50, 23.41, 23.41, 23.41,
             23.41, 23.55, 23.60, 23.46, 23.46, 23.46, 23.41, 23.45, 23.41, 23.41,
             23.41, 23.41, 23.41, 23.41, 23.41, 23.36, 23.41, 23.41, 23.46, 24.11,
             23.60, 23.34, 23.34, 23.34, 23.39, 23.34, 23.29, 23.34, 23.39, 23.34,
             23.38, 23.54, 23.54, 23.23, 23.39, 23.39, 23.34, 23.34, 23.34, 23.29,
             23.29, 23.34, 23.34, 23.34, 23.34, 23.34, 23.34, 23.29, 23.38, 23.24,
             23.09, 23.14, 23.14, 23.14, 23.14, 23.08, 23.03, 23.08, 23.08, 23.08,
             23.08, 23.43, 23.53, 23.33]
D_P2_TEMP_CI = [0.24, 0.24, 0.24, 0.24, 0.24, 0.24, 0.24, 0.24, 0.24, 0.24,
                0.20, 0.20, 0.20, 0.20, 0.20, 0.20, 0.20, 0.20, 0.20, 0.20,
                0.20, 0.20, 0.20, 0.26, 0.26, 0.26, 0.26, 0.26, 0.26, 0.26,
                0.26, 0.26, 0.26, 0.26, 0.26, 0.26, 0.26, 0.26, 0.26, 0.14,
                0.20, 0.22, 0.22, 0.22, 0.22, 0.22, 0.22, 0.22, 0.22, 0.22,
                0.22, 0.22, 0.22, 0.22, 0.22, 0.22, 0.22, 0.22, 0.22, 0.22,
                0.22, 0.22, 0.22, 0.22, 0.22, 0.22, 0.22, 0.22, 0.22, 0.28,
                0.28, 0.28, 0.28, 0.28, 0.28, 0.28, 0.28, 0.28, 0.28, 0.28,
                0.28, 0.35, 0.35, 0.35]
D_P2_DIFF = [0.26, 0.28, 0.33, 0.33, 0.26, 0.32, 0.36, 0.42, 0.48, 0.33,
             0.42, 0.42, 0.42, 0.42, 0.42, 0.17, 0.34, 0.51, 0.51, 0.51,
             0.51, 0.42, 0.22, 0.44, 0.44, 0.44, 0.39, 0.44, 0.40, 0.40,
             0.40, 0.40, 0.40, 0.40, 0.40, 0.36, 0.40, 0.40, 0.34, 0.44,
             0.42, 0.29, 0.29, 0.29, 0.33, 0.29, 0.24, 0.52, 0.32, 0.29,
             0.33, 0.24, 0.24, 0.42, 0.57, 0.35, 0.31, 0.31, 0.31, 0.25,
             0.25, 0.31, 0.31, 0.52, 0.52, 0.52, 0.52, 0.46, 0.57, 0.41,
             0.51, 0.57, 0.57, 0.57, 0.57, 0.51, 0.46, 0.51, 0.51, 0.51,
             0.51, 0.41, 0.48, 0.28]
D_P2_DIFF_CI = [0.25, 0.25, 0.25, 0.25, 0.25, 0.25, 0.25, 0.25, 0.25, 0.25,
                0.29, 0.29, 0.29, 0.29, 0.29, 0.29, 0.29, 0.29, 0.29, 0.29,
                0.29, 0.29, 0.29, 0.24, 0.24, 0.24, 0.24, 0.24, 0.24, 0.24,
                0.24, 0.24, 0.24, 0.24, 0.24, 0.24, 0.24, 0.24, 0.24, 0.30,
                0.30, 0.30, 0.30, 0.30, 0.30, 0.30, 0.30, 0.30, 0.30, 0.30,
                0.30, 0.30, 0.30, 0.33, 0.33, 0.33, 0.33, 0.33, 0.33, 0.33,
                0.33, 0.33, 0.33, 0.33, 0.33, 0.33, 0.33, 0.33, 0.33, 0.27,
                0.27, 0.27, 0.27, 0.27, 0.27, 0.27, 0.27, 0.27, 0.27, 0.27,
                0.27, 0.33, 0.33, 0.33]

# ------------------------------------------------------------------ styling / layout
NARROW = "Liberation Sans Narrow, Arial Narrow, DejaVu Sans Condensed, sans-serif"
TICKF = "DejaVu Sans, Verdana, sans-serif"
AXC = "#404040"
TXT = "#1a1a1a"
YEL = "#FFC000"
BLU = "#0070C0"
P1_BLUE_CI = "rgba(175,205,235,0.5)"
P1_RED_CI = "rgba(248,180,155,0.45)"
P2_BLUE_CI = "#9DC3E6"
P1_GRID = "#DDEAF6"

PANELS = [
    dict(letter="A", who="Females 7d", cc2="Weekly CC.", p2lab="Period 2: Animal age 334–348 days",
         t1=A_P1_TEMP, t1ci=A_P1_TEMP_CI, d1=A_P1_DIFF, d1ci=A_P1_DIFF_CI,
         t2=A_P2_TEMP, t2ci=A_P2_TEMP_CI, d2=A_P2_DIFF, d2ci=A_P2_DIFF_CI,
         grid2="#8FAADC", dcol2="#FF0000", dci2="#F8C4AE",
         x1=(147, 955), x2=(968, 1768), y=(212, 921),
         title1=(539, 118), title2=(1387, 110), xt1=(539, 1149), xt2=(1409, 1145),
         lt=(36, 578), rt=(1852, 569), tag=(49, 51), leg=(156, 226), gap=2),
    dict(letter="B", who="Females 14d", cc2="Bi-weekly CC.", p2lab="Period 2: Animal age 334-348 days",
         t1=B_P1_TEMP, t1ci=B_P1_TEMP_CI, d1=B_P1_DIFF, d1ci=B_P1_DIFF_CI,
         t2=B_P2_TEMP, t2ci=B_P2_TEMP_CI, d2=B_P2_DIFF, d2ci=B_P2_DIFF_CI,
         grid2="#DAE3F3", dcol2="#FF0000", dci2="#F8C4AE",
         x1=(2024, 2832), x2=(2847, 3670), y=(212, 921),
         title1=(2418, 101), title2=(3246, 98), xt1=(2449, 1149), xt2=(3265, 1141),
         lt=(1923, 572), rt=(3764, 565), tag=(1947, 51), leg=(2020, 190), gap=10),
    dict(letter="C", who="Males 7d", cc2="Weekly CC.", p2lab="Period 2: Animal age 334–348 days",
         t1=C_P1_TEMP, t1ci=C_P1_TEMP_CI, d1=C_P1_DIFF, d1ci=C_P1_DIFF_CI,
         t2=C_P2_TEMP, t2ci=C_P2_TEMP_CI, d2=C_P2_DIFF, d2ci=C_P2_DIFF_CI,
         grid2="#D9D9D9", dcol2="#FF0000", dci2="#F8C4AE",
         x1=(147, 955), x2=(975, 1767), y=(1361, 2072),
         title1=(560, 1276), title2=(1348, 1276), xt1=(588, 2294), xt2=(1388, 2306),
         lt=(30, 1716), rt=(1855, 1716), tag=(49, 1253), leg=(172, 1380), gap=2),
    dict(letter="D", who="Males 14d", cc2="Bi-weekly CC.", p2lab="Period 2: Animal age 334–348 days",
         t1=D_P1_TEMP, t1ci=D_P1_TEMP_CI, d1=D_P1_DIFF, d1ci=D_P1_DIFF_CI,
         t2=D_P2_TEMP, t2ci=D_P2_TEMP_CI, d2=D_P2_DIFF, d2ci=D_P2_DIFF_CI,
         grid2="#D9D9D9", dcol2="#EF6B3B", dci2="#F9CDBA",
         x1=(2024, 2832), x2=(2857, 3670), y=(1361, 2072),
         title1=(2439, 1275), title2=(3283, 1270), xt1=(2442, 2290), xt2=(3277, 2287),
         lt=(1914, 1705), rt=(3764, 1716), tag=(1949, 1253), leg=(2050, 1363), gap=2),
]


def fx(px):
    return px / W


def fy(py):
    return 1 - py / H


def akey(axis, n):
    return f"{axis}axis" if n == 1 else f"{axis}axis{n}"


def aref(axis, n):
    return axis if n == 1 else f"{axis}{n}"


def ci_trace(x, y, ci, xr, yr, color, thick):
    return go.Scatter(x=x, y=y, mode="markers", marker=dict(size=1, color="rgba(0,0,0,0)"),
                      error_y=dict(type="data", array=ci, visible=True, color=color,
                                   thickness=thick, width=0),
                      xaxis=xr, yaxis=yr, showlegend=False, hoverinfo="skip")


fig = go.Figure()
layout = dict(width=W, height=H, margin=dict(l=0, r=0, t=0, b=0), autosize=False,
              paper_bgcolor="white", plot_bgcolor="white", showlegend=True)
annotations = []
shapes = []

for p, c in enumerate(PANELS):
    xa1, xa2 = 2 * p + 1, 2 * p + 2
    yt1, yd1, yt2, yd2 = 4 * p + 1, 4 * p + 2, 4 * p + 3, 4 * p + 4
    leg = "legend" if p == 0 else f"legend{p + 1}"
    ydom = [fy(c["y"][1]), fy(c["y"][0])]

    # --- axes, period 1
    layout[akey("x", xa1)] = dict(
        domain=[fx(c["x1"][0]), fx(c["x1"][1])], anchor=aref("y", yt1), range=[0, 340],
        tickmode="array", tickvals=P1_TICK_POS, ticktext=P1_TICK_TEXT, tickangle=-90,
        ticks="outside", ticklen=12, tickwidth=2, tickcolor=AXC, showline=True, linecolor=AXC,
        linewidth=3, showgrid=False, zeroline=False,
        tickfont=dict(family=TICKF, size=24, color="#262626"))
    layout[akey("y", yt1)] = dict(
        domain=ydom, anchor=aref("x", xa1), range=[20, 25], tick0=20, dtick=2,
        ticks="outside", ticklen=12, tickwidth=2, tickcolor=AXC, showline=True, linecolor=AXC,
        linewidth=3, showgrid=True, gridcolor=P1_GRID, gridwidth=2, zeroline=False,
        tickfont=dict(family=NARROW, size=35, color="#262626"),
        minor=dict(dtick=0.5, tick0=20, ticks="outside", ticklen=10, tickwidth=2,
                   tickcolor=AXC, showgrid=False))
    layout[akey("y", yd1)] = dict(domain=ydom, overlaying=aref("y", yt1), anchor=aref("x", xa1),
                                  range=[-0.5, 4.0], visible=False)
    # --- axes, period 2
    layout[akey("x", xa2)] = dict(
        domain=[fx(c["x2"][0]), fx(c["x2"][1])], anchor=aref("y", yt2), range=[0, 83.5],
        tickmode="array", tickvals=P2_TICK_POS, ticktext=P2_TICK_TEXT, tickangle=-90,
        ticks="outside", ticklen=12, tickwidth=2, tickcolor=AXC, showline=True, linecolor=AXC,
        linewidth=3, showgrid=False, zeroline=False,
        tickfont=dict(family=TICKF, size=24, color="#262626"))
    layout[akey("y", yt2)] = dict(
        domain=ydom, anchor=aref("x", xa2), range=[20, 25], tick0=20, dtick=1,
        showgrid=True, gridcolor=c["grid2"], gridwidth=3, showticklabels=False, ticks="",
        showline=False, zeroline=False)
    layout[akey("y", yd2)] = dict(
        domain=ydom, overlaying=aref("y", yt2), anchor=aref("x", xa2), side="right",
        range=[-0.5, 4.0], tickmode="array", tickvals=[-0.5, 0.5, 1.5, 2.5, 3.5],
        ticktext=["-0.5", "0.5", "1.5", "2.5", "3.5"], ticks="outside", ticklen=12, tickwidth=2,
        tickcolor=AXC, showline=True, linecolor=AXC, linewidth=3, showgrid=False, zeroline=False,
        tickfont=dict(family=NARROW, size=30, color="#262626"),
        minor=dict(tickmode="array", tickvals=[0, 1, 2, 3, 4], ticks="outside", ticklen=10,
                   tickwidth=2, tickcolor=AXC, showgrid=False))

    x1r, x2r = aref("x", xa1), aref("x", xa2)
    yt1r, yd1r, yt2r, yd2r = aref("y", yt1), aref("y", yd1), aref("y", yt2), aref("y", yd2)

    # top grid line (25 °C) of period-2 plot
    shapes.append(dict(type="line", xref=f"{x2r} domain", x0=0, x1=1, yref=yt2r, y0=25, y1=25,
                       line=dict(color=c["grid2"], width=3), layer="below"))

    # --- CI bars (drawn first, beneath the lines)
    fig.add_trace(ci_trace(P1_X, c["t1"], c["t1ci"], x1r, yt1r, P1_BLUE_CI, 8))
    fig.add_trace(ci_trace(P1_X, c["d1"], c["d1ci"], x1r, yd1r, P1_RED_CI, 8))
    fig.add_trace(ci_trace(P2_X, c["t2"], c["t2ci"], x2r, yt2r, P2_BLUE_CI, 2.5))
    fig.add_trace(ci_trace(P2_X, c["d2"], c["d2ci"], x2r, yd2r, c["dci2"], 2.5))

    # --- lines, period 1 (these carry the legend)
    names = ["Background T", f"Temp oC {c['who']}", f"Diff Temp oC {c['who']}"]
    fig.add_trace(go.Scatter(x=P1_X, y=BG_P1, mode="lines", line=dict(color=YEL, width=3.5),
                             name=names[0], legend=leg, legendgroup=f"{p}bg",
                             xaxis=x1r, yaxis=yt1r))
    fig.add_trace(go.Scatter(x=P1_X, y=c["t1"], mode="lines", line=dict(color=BLU, width=3.5),
                             name=names[1], legend=leg, legendgroup=f"{p}t",
                             xaxis=x1r, yaxis=yt1r))
    fig.add_trace(go.Scatter(x=P1_X, y=c["d1"], mode="lines", line=dict(color="#FF0000", width=3.5),
                             name=names[2], legend=leg, legendgroup=f"{p}d",
                             xaxis=x1r, yaxis=yd1r))
    # --- lines, period 2
    fig.add_trace(go.Scatter(x=P2_X, y=BG_P2, mode="lines", line=dict(color=YEL, width=4.5),
                             showlegend=False, legendgroup=f"{p}bg", xaxis=x2r, yaxis=yt2r))
    fig.add_trace(go.Scatter(x=P2_X, y=c["t2"], mode="lines", line=dict(color=BLU, width=4.5),
                             showlegend=False, legendgroup=f"{p}t", xaxis=x2r, yaxis=yt2r))
    fig.add_trace(go.Scatter(x=P2_X, y=c["d2"], mode="lines", line=dict(color=c["dcol2"], width=4.5),
                             showlegend=False, legendgroup=f"{p}d", xaxis=x2r, yaxis=yd2r))

    layout[leg] = dict(x=fx(c["leg"][0]), y=fy(c["leg"][1]), xanchor="left", yanchor="top",
                       bgcolor="rgba(0,0,0,0)", borderwidth=0, itemwidth=30,
                       tracegroupgap=c["gap"], traceorder="grouped",
                       font=dict(family=NARROW, size=27, color="#404040"))

    # --- texts
    t1 = ("Average temperature (<sup>o</sup>C) every hour and 95% CI.<br>"
          "Weekly CC. Period 1: Animal age 100–114 days.")
    t2 = ("Average temperature (<sup>o</sup>C) every 4<sup>th</sup> hour and 95% CI.<br>"
          f"{c['cc2']} Period 2: Animal age 334–348 days.")
    for txt, pos in ((t1, c["title1"]), (t2, c["title2"])):
        annotations.append(dict(text=txt, x=fx(pos[0]), y=fy(pos[1]), xref="paper", yref="paper",
                                showarrow=False, xanchor="center", yanchor="middle", align="center",
                                font=dict(family=NARROW, size=31, color=TXT)))
    for txt, pos in (("Period 1: Animal age 100–114 days", c["xt1"]), (c["p2lab"], c["xt2"])):
        annotations.append(dict(text=txt, x=fx(pos[0]), y=fy(pos[1]), xref="paper", yref="paper",
                                showarrow=False, xanchor="center", yanchor="middle",
                                font=dict(family=NARROW, size=31, color=TXT)))
    annotations.append(dict(text="Temperature (<sup>o</sup>C)", x=fx(c["lt"][0]), y=fy(c["lt"][1]),
                            xref="paper", yref="paper", showarrow=False, textangle=-90,
                            xanchor="center", yanchor="middle",
                            font=dict(family=TICKF, size=31, color=TXT)))
    annotations.append(dict(text="Temp diff cage - HR (<sup>o</sup>C)", x=fx(c["rt"][0]),
                            y=fy(c["rt"][1]), xref="paper", yref="paper", showarrow=False,
                            textangle=-90, xanchor="center", yanchor="middle",
                            font=dict(family=TICKF, size=31, color=TXT)))
    annotations.append(dict(text=c["letter"], x=fx(c["tag"][0]), y=fy(c["tag"][1]), xref="paper",
                            yref="paper", showarrow=False, xanchor="center", yanchor="middle",
                            font=dict(family=NARROW, size=50, color="#000000")))

layout["annotations"] = annotations
layout["shapes"] = shapes
fig.update_layout(**layout)

fig.write_html("out.html", config={"displayModeBar": False},
               post_script="document.body.style.margin='0';document.body.style.overflow='hidden';")
